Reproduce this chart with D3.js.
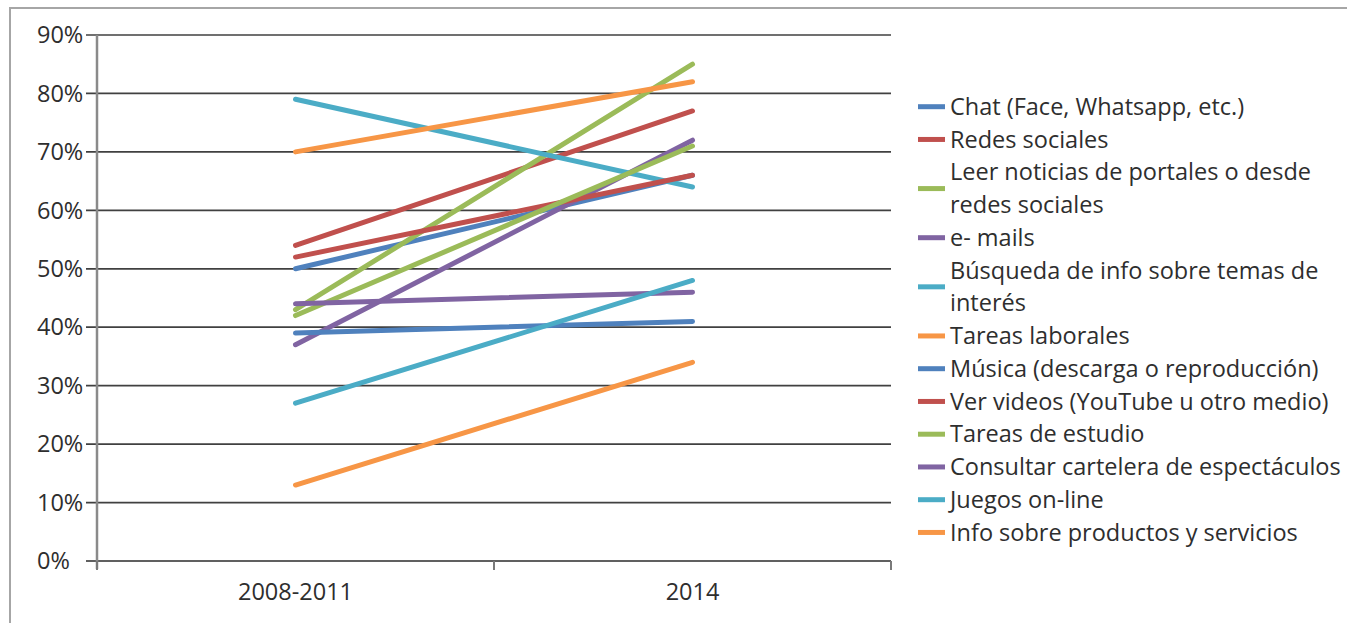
<!DOCTYPE html>
<html>
<head>
<meta charset="utf-8">
<script src="https://cdn.jsdelivr.net/npm/d3@7"></script>
<style>
  body { margin: 0; background: #fff; }
  svg { display: block; font-family: "Open Sans", sans-serif; }
</style>
</head>
<body>
<svg class="chart"></svg>
<script>
// periods on the x axis
var periods = ["2008-2011", "2014"];

// series names, legend order (line breaks as in the original legend)
var series = [
  "Chat (Face, Whatsapp, etc.)",
  "Redes sociales",
  "Leer noticias de portales o desde\nredes sociales",
  "e- mails",
  "Búsqueda de info sobre temas de\ninterés",
  "Tareas laborales",
  "Música (descarga o reproducción)",
  "Ver videos (YouTube u otro medio)",
  "Tareas de estudio",
  "Consultar cartelera de espectáculos",
  "Juegos on-line",
  "Info sobre productos y servicios"
];

// percent values, one per series, for each period
var values2008 = [50, 54, 43, 37, 79, 70, 39, 52, 42, 44, 27, 13];
var values2014 = [66, 77, 85, 72, 64, 82, 41, 66, 71, 46, 48, 34];

var yTicks = [0, 10, 20, 30, 40, 50, 60, 70, 80, 90];

var palette = ["#4F81BD", "#C0504D", "#9BBB59", "#8064A2", "#4BACC6", "#F79646"];

var ui = {
  width: 1347,
  height: 623,
  left: 97,
  right: 891,
  top: 35,
  bottom: 561,
  font: 23.5,
  text: "#2e2e2e"
};

var chart = d3.select(".chart")
  .attr("width", ui.width)
  .attr("height", ui.height);

// outer chart frame
chart.append("rect")
  .attr("x", 10).attr("y", 8)
  .attr("width", 1400).attr("height", 700)
  .style("fill", "none")
  .style("stroke", "#a6a6a6")
  .style("stroke-width", 2);

var x = d3.scaleBand().domain(periods).range([ui.left, ui.right]);
var y = d3.scaleLinear().domain([0, 90]).range([ui.bottom, ui.top]);

// gridlines
chart.append("g")
  .selectAll("line")
  .data(yTicks)
  .enter().append("line")
  .attr("x1", ui.left - 11)
  .attr("x2", ui.right)
  .attr("y1", function(d) { return y(d); })
  .attr("y2", function(d) { return y(d); })
  .style("stroke", function(d) { return d ? "#404040" : "#606060"; })
  .style("stroke-width", function(d) { return d ? 1.7 : 2; });

// y axis line
chart.append("line")
  .attr("x1", ui.left).attr("x2", ui.left)
  .attr("y1", ui.top).attr("y2", ui.bottom + 8)
  .style("stroke", "#8a8a8a")
  .style("stroke-width", 2.5);

// x axis ticks at band edges
var edges = periods.map(function(p) { return x(p); }).concat([ui.right]);
chart.append("g")
  .selectAll("line")
  .data(edges)
  .enter().append("line")
  .attr("x1", function(d) { return d; })
  .attr("x2", function(d) { return d; })
  .attr("y1", ui.bottom)
  .attr("y2", ui.bottom + 9)
  .style("stroke", "#7a7a7a")
  .style("stroke-width", 2);

// y tick labels
chart.append("g")
  .selectAll("text")
  .data(yTicks)
  .enter().append("text")
  .attr("x", 37)
  .attr("y", function(d) { return y(d); })
  .attr("dy", "0.35em")
  .style("font-size", ui.font + "px")
  .style("fill", ui.text)
  .text(function(d) { return d + "%"; });

// x tick labels
chart.append("g")
  .selectAll("text")
  .data(periods)
  .enter().append("text")
  .attr("x", function(d) { return x(d) + x.bandwidth() / 2; })
  .attr("y", 592)
  .attr("dy", "0.35em")
  .attr("text-anchor", "middle")
  .style("font-size", ui.font + "px")
  .style("fill", ui.text)
  .text(function(d) { return d; });

// lines
var data = series.map(function(name, i) {
  return {
    name: name,
    color: palette[i % palette.length],
    points: [
      { p: periods[0], v: values2008[i] },
      { p: periods[1], v: values2014[i] }
    ]
  };
});

var line = d3.line()
  .x(function(d) { return x(d.p) + x.bandwidth() / 2; })
  .y(function(d) { return y(d.v); });

chart.append("g")
  .selectAll("path")
  .data(data)
  .enter().append("path")
  .attr("d", function(d) { return line(d.points); })
  .style("fill", "none")
  .style("stroke", function(d) { return d.color; })
  .style("stroke-width", 5)
  .style("stroke-linecap", "round");

// legend
var rowH = 32.75;
var row = 0;
var legend = chart.append("g");
data.forEach(function(d) {
  var lines = d.name.split("\n");
  var y0 = 106.7 + row * rowH;
  var mid = y0 + (lines.length - 1) * rowH / 2;
  legend.append("line")
    .attr("x1", 918).attr("x2", 945)
    .attr("y1", mid).attr("y2", mid)
    .style("stroke", d.color)
    .style("stroke-width", 5);
  lines.forEach(function(t, k) {
    legend.append("text")
      .attr("x", 950)
      .attr("y", y0 + k * rowH)
      .attr("dy", "0.35em")
      .style("font-size", ui.font + "px")
      .style("fill", ui.text)
      .text(t);
  });
  row += lines.length;
});
</script>
</body>
</html>
